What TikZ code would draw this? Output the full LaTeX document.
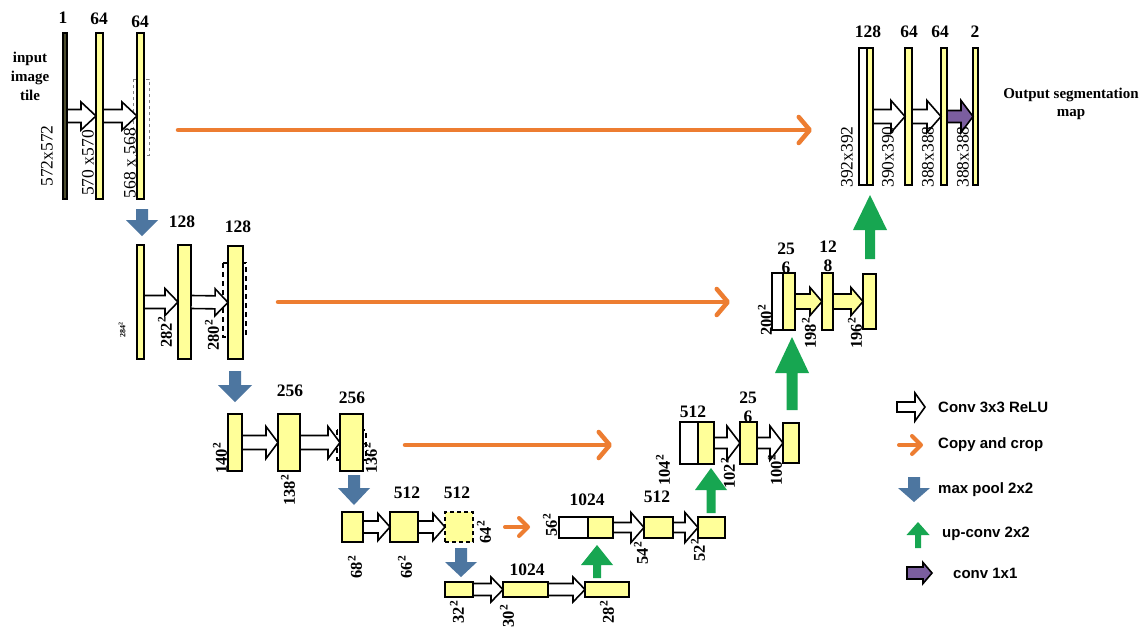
\documentclass[tikz,border=0pt]{standalone}
\usepackage{fontspec}
\setmainfont{Liberation Serif}
\setsansfont{Liberation Sans}
\usetikzlibrary{calc,arrows.meta}

\definecolor{fmap}{HTML}{FFFF99}
\definecolor{copyc}{HTML}{ED7D31}
\definecolor{poolc}{HTML}{4D76A0}
\definecolor{upc}{HTML}{17A651}
\definecolor{onec}{HTML}{7B5E9F}

% feature map box: name, x1, y1, x2, y2, style
\newcommand\fmapbox[6]{%
  \node[#6, minimum width={#4-#2}, minimum height={#5-#3}] (#1) at ({(#2+#4)/2},{(#3+#5)/2}) {};}

% block arrow: style, start, end, shaft half width, head half width, head length
\newcommand\blockarrow[6]{%
  \coordinate (ba-b) at ($#3!#6!#2$);
  \path[#1] ($#2!#4!90:#3$) -- ($(ba-b)!#4!90:#3$) -- ($(ba-b)!#5!90:#3$) -- #3
    -- ($(ba-b)!#5!-90:#3$) -- ($(ba-b)!#4!-90:#3$) -- ($#2!#4!-90:#3$) -- cycle;}

\tikzset{
  fm/.style={draw=black, line width=1.6pt, fill=fmap, inner sep=0pt, outer sep=0pt},
  fmwhite/.style={fm, fill=white},
  fmdark/.style={fm, fill=fmap!30!black},
  fmdash/.style={fm, dash pattern=on 4pt off 3pt},
  conv/.style={draw=black, line width=1.6pt, fill=white, line join=miter},
  convy/.style={conv, fill=fmap},
  pool/.style={fill=poolc},
  up/.style={fill=upc},
  one/.style={conv, fill=onec},
  copyarr/.style={draw=copyc, line width=4.5pt, line cap=round,
    -{Straight Barb[length=11pt,width=26pt,round]}},
  copysmall/.style={copyarr, line width=4pt, -{Straight Barb[length=9pt,width=18pt,round]}},
  chan/.style={font=\fontsize{17.5}{19}\selectfont\bfseries, inner sep=0pt, align=center},
  dim/.style={font=\fontsize{17.5}{19}\selectfont, rotate=90, inner sep=0pt},
  dsq/.style={font=\fontsize{16.5}{18}\selectfont\bfseries, rotate=90, inner sep=0pt},
  legtext/.style={font=\sffamily\bfseries\fontsize{15}{17}\selectfont, anchor=west, inner sep=0pt},
}

\begin{document}
\begin{tikzpicture}[x=1pt, y=-1pt]
\useasboundingbox (0,0) rectangle (1145,627);
\fill[white] (0,0) rectangle (1145,627);

% ---------- crop regions ----------
\draw[gray, dashed, line width=0.7pt] (133,79) rectangle (149,155);
\draw[black, line width=1.8pt, dash pattern=on 5pt off 4pt] (223,263) rectangle (246,337);
\draw[black, line width=1.8pt, dash pattern=on 5pt off 4pt] (337,430) rectangle (366,460);

% ---------- contracting path ----------
\fmapbox{in1}{63}{33}{67}{199}{fmdark}
\fmapbox{e1a}{96}{33}{103}{199}{fm}
\fmapbox{e1b}{137}{33}{144}{199}{fm}

\fmapbox{e2a}{137}{245}{144}{359}{fm}
\fmapbox{e2b}{178}{245}{191}{359}{fm}
\fmapbox{e2c}{228}{246}{243}{359}{fm}

\fmapbox{e3a}{228}{414}{242}{471}{fm}
\fmapbox{e3b}{278}{414}{300}{471}{fm}
\fmapbox{e3c}{340}{414}{363}{471}{fm}

\fmapbox{e4a}{342}{512}{363}{542}{fm}
\fmapbox{e4b}{390}{512}{418}{542}{fm}
\fmapbox{e4c}{445}{512}{473}{542}{fmdash}

\fmapbox{e5a}{445}{582}{473}{597}{fm}
\fmapbox{e5b}{503}{582}{548}{597}{fm}
\fmapbox{e5c}{585}{582}{629}{597}{fm}

% ---------- expanding path ----------
\fmapbox{d4w}{559}{517}{588}{538}{fmwhite}
\fmapbox{d4y}{588}{517}{613}{538}{fm}
\fmapbox{d4b}{644}{517}{673}{538}{fm}
\fmapbox{d4c}{698}{517}{725}{538}{fm}

\fmapbox{d3w}{680}{422}{698}{464}{fmwhite}
\fmapbox{d3y}{698}{422}{714}{464}{fm}
\fmapbox{d3b}{740}{422}{757}{464}{fm}
\fmapbox{d3c}{783}{423}{799}{463}{fm}

\fmapbox{d2w}{772}{273}{783}{330}{fmwhite}
\fmapbox{d2y}{783}{273}{795}{330}{fm}
\fmapbox{d2b}{822}{273}{833}{330}{fm}
\fmapbox{d2c}{863}{274}{876}{329}{fm}

\fmapbox{d1w}{859}{48}{867}{185}{fmwhite}
\fmapbox{d1y}{867}{48}{873}{185}{fm}
\fmapbox{d1b}{905}{48}{912}{185}{fm}
\fmapbox{d1c}{941}{48}{947}{185}{fm}
\fmapbox{d1o}{973}{48}{978}{185}{fm}

% ---------- 3x3 convolutions ----------
\blockarrow{conv}{(in1.east)}{(e1a.west)}{6.5pt}{14pt}{15pt}
\blockarrow{conv}{(e1a.east)}{(e1b.west)}{6.5pt}{14pt}{15pt}
\blockarrow{conv}{(e2a.east)}{(e2b.west)}{6.5pt}{13.5pt}{13pt}
\blockarrow{conv}{(e2b.east)}{(e2c.west)}{6.5pt}{13.5pt}{13pt}
\blockarrow{conv}{(e3a.east)}{(e3b.west)}{7pt}{16pt}{12pt}
\blockarrow{conv}{(e3b.east)}{(e3c.west)}{7pt}{16pt}{12pt}
\blockarrow{conv}{(e4a.east)}{(e4b.west)}{6pt}{13.5pt}{12pt}
\blockarrow{conv}{(e4b.east)}{(e4c.west)}{6pt}{13.5pt}{12pt}
\blockarrow{conv}{(e5a.east)}{(e5b.west)}{6pt}{12.5pt}{12pt}
\blockarrow{conv}{(e5b.east)}{(e5c.west)}{6pt}{12.5pt}{12pt}
\blockarrow{conv}{(d4y.east)}{(d4b.west)}{5pt}{15pt}{13pt}
\blockarrow{conv}{(d4b.east)}{(d4c.west)}{5pt}{15pt}{13pt}
\blockarrow{conv}{(d3y.east)}{(d3b.west)}{5.5pt}{17pt}{13pt}
\blockarrow{conv}{(d3b.east)}{(d3c.west)}{5.5pt}{17pt}{13pt}
\blockarrow{convy}{(d2y.east)}{(d2b.west)}{7.5pt}{14pt}{12pt}
\blockarrow{convy}{(d2b.east)}{(d2c.west)}{7.5pt}{14pt}{12pt}
\blockarrow{conv}{(d1y.east)}{(d1b.west)}{7pt}{16pt}{14pt}
\blockarrow{conv}{(d1b.east)}{(d1c.west)}{7pt}{16pt}{14pt}
\blockarrow{one}{(d1c.east)}{(d1o.west)}{6pt}{16pt}{12pt}

% ---------- max pooling ----------
\coordinate (p1s) at (142,209); \coordinate (p1e) at (142,236);
\coordinate (p2s) at (235,371); \coordinate (p2e) at (235,402);
\coordinate (p3s) at (354,475); \coordinate (p3e) at (354,505);
\coordinate (p4s) at (461,548); \coordinate (p4e) at (461,577);
\blockarrow{pool}{(p1s)}{(p1e)}{6pt}{16pt}{16pt}
\blockarrow{pool}{(p2s)}{(p2e)}{6pt}{17pt}{17pt}
\blockarrow{pool}{(p3s)}{(p3e)}{6pt}{16pt}{17pt}
\blockarrow{pool}{(p4s)}{(p4e)}{6pt}{16pt}{15pt}

% ---------- up-convolutions ----------
\coordinate (u1s) at (597,578); \coordinate (u1e) at (597,545);
\coordinate (u2s) at (711,513); \coordinate (u2e) at (711,468);
\coordinate (u3s) at (792,410); \coordinate (u3e) at (792,337);
\coordinate (u4s) at (870,259); \coordinate (u4e) at (870,195);
\blockarrow{up}{(u1s)}{(u1e)}{4pt}{16pt}{20pt}
\blockarrow{up}{(u2s)}{(u2e)}{4.5pt}{16pt}{22pt}
\blockarrow{up}{(u3s)}{(u3e)}{5.5pt}{17pt}{36pt}
\blockarrow{up}{(u4s)}{(u4e)}{5pt}{17pt}{35pt}

% ---------- copy and crop ----------
\coordinate (c1s) at (178,130); \coordinate (c1e) at (812,130);
\coordinate (c2s) at (278,302); \coordinate (c2e) at (730,302);
\coordinate (c3s) at (405,445); \coordinate (c3e) at (612,445);
\coordinate (c4s) at (505,527); \coordinate (c4e) at (530,527);
\draw[copyarr] (c1s) -- (c1e);
\draw[copyarr] (c2s) -- (c2e);
\draw[copyarr] (c3s) -- (c3e);
\draw[copysmall] (c4s) -- (c4e);

% ---------- channel counts ----------
\node[chan] (n1)  at (63,18)  {1};
\node[chan] (n2)  at (99,19)  {64};
\node[chan] (n3)  at (140,22) {64};
\node[chan] (n4)  at (182,222) {128};
\node[chan] (n5)  at (238,227) {128};
\node[chan] (n6)  at (290,391) {256};
\node[chan] (n7)  at (352,398) {256};
\node[chan] (n8)  at (407,493) {512};
\node[chan] (n9)  at (457,493) {512};
\node[chan] (n10) at (527,570) {1024};
\node[chan] (n11) at (587,500) {1024};
\node[chan] (n12) at (657,497) {512};
\node[chan] (n13) at (693,412) {512};
\node[chan] (n14) at (748,407) {25\\6};
\node[chan] (n15) at (786,258) {25\\6};
\node[chan] (n16) at (828,256) {12\\8};
\node[chan] (n17) at (868,32) {128};
\node[chan] (n18) at (909,32) {64};
\node[chan] (n19) at (940,32) {64};
\node[chan] (n20) at (975,32) {2};

\node[chan, font=\fontsize{15}{19}\selectfont\bfseries] (intile) at (30,76) {input\\image\\tile};
\node[chan, font=\fontsize{15}{18}\selectfont\bfseries] (outmap) at (1071,104) {Output segmentation\\map};

% ---------- spatial sizes ----------
\node[dim] (s1) at (47,156)  {572x572};
\node[dim] (s2) at (88,163)  {570 x570};
\node[dim] (s3) at (130,163) {568 x 568};
\node[dsq, font=\fontsize{8}{9}\selectfont\bfseries] (s4) at (122,330) {284\textsuperscript{2}};
\node[dsq] (s5)  at (165,332) {282\textsuperscript{2}};
\node[dsq] (s6)  at (212,335) {280\textsuperscript{2}};
\node[dsq] (s7)  at (220,458) {140\textsuperscript{2}};
\node[dsq] (s8)  at (288,490) {138\textsuperscript{2}};
\node[dsq] (s9)  at (370,458) {136\textsuperscript{2}};
\node[dsq] (s10) at (355,567) {68\textsuperscript{2}};
\node[dsq] (s11) at (405,567) {66\textsuperscript{2}};
\node[dsq] (s12) at (484,532) {64\textsuperscript{2}};
\node[dsq] (s13) at (457,612) {32\textsuperscript{2}};
\node[dsq] (s14) at (507,616) {30\textsuperscript{2}};
\node[dsq] (s15) at (607,612) {28\textsuperscript{2}};
\node[dsq] (s16) at (550,525) {56\textsuperscript{2}};
\node[dsq] (s17) at (641,553) {54\textsuperscript{2}};
\node[dsq] (s18) at (698,550) {52\textsuperscript{2}};
\node[dsq] (s19) at (663,470) {104\textsuperscript{2}};
\node[dsq] (s20) at (728,473) {102\textsuperscript{2}};
\node[dsq] (s21) at (775,470) {100\textsuperscript{2}};
\node[dsq] (s22) at (765,320) {200\textsuperscript{2}};
\node[dsq] (s23) at (809,333) {198\textsuperscript{2}};
\node[dsq] (s24) at (855,333) {196\textsuperscript{2}};
\node[dim] (s25) at (847,157) {392x392};
\node[dim] (s26) at (888,157) {390x390};
\node[dim] (s27) at (928,157) {388x388};
\node[dim] (s28) at (963,157) {388x388};

% ---------- legend ----------
\coordinate (l1s) at (897,407); \coordinate (l1e) at (925,407);
\coordinate (l2s) at (899,445); \coordinate (l2e) at (923,445);
\coordinate (l3s) at (914,477); \coordinate (l3e) at (914,502);
\coordinate (l4s) at (918,548); \coordinate (l4e) at (918,522);
\coordinate (l5s) at (907,573); \coordinate (l5e) at (932,573);
\blockarrow{conv}{(l1s)}{(l1e)}{5pt}{14pt}{10pt}
\draw[copysmall] (l2s) -- (l2e);
\blockarrow{pool}{(l3s)}{(l3e)}{6pt}{16pt}{14pt}
\blockarrow{up}{(l4s)}{(l4e)}{3pt}{11.5pt}{13pt}
\blockarrow{one}{(l5s)}{(l5e)}{6pt}{10.5pt}{9pt}
\node[legtext] (lt1) at (938,407) {Conv 3x3 ReLU};
\node[legtext] (lt2) at (938,445) {Copy and crop};
\node[legtext] (lt3) at (938,490) {max pool 2x2};
\node[legtext] (lt4) at (942,534) {up-conv 2x2};
\node[legtext] (lt5) at (953,573) {conv 1x1};
\end{tikzpicture}
\end{document}
